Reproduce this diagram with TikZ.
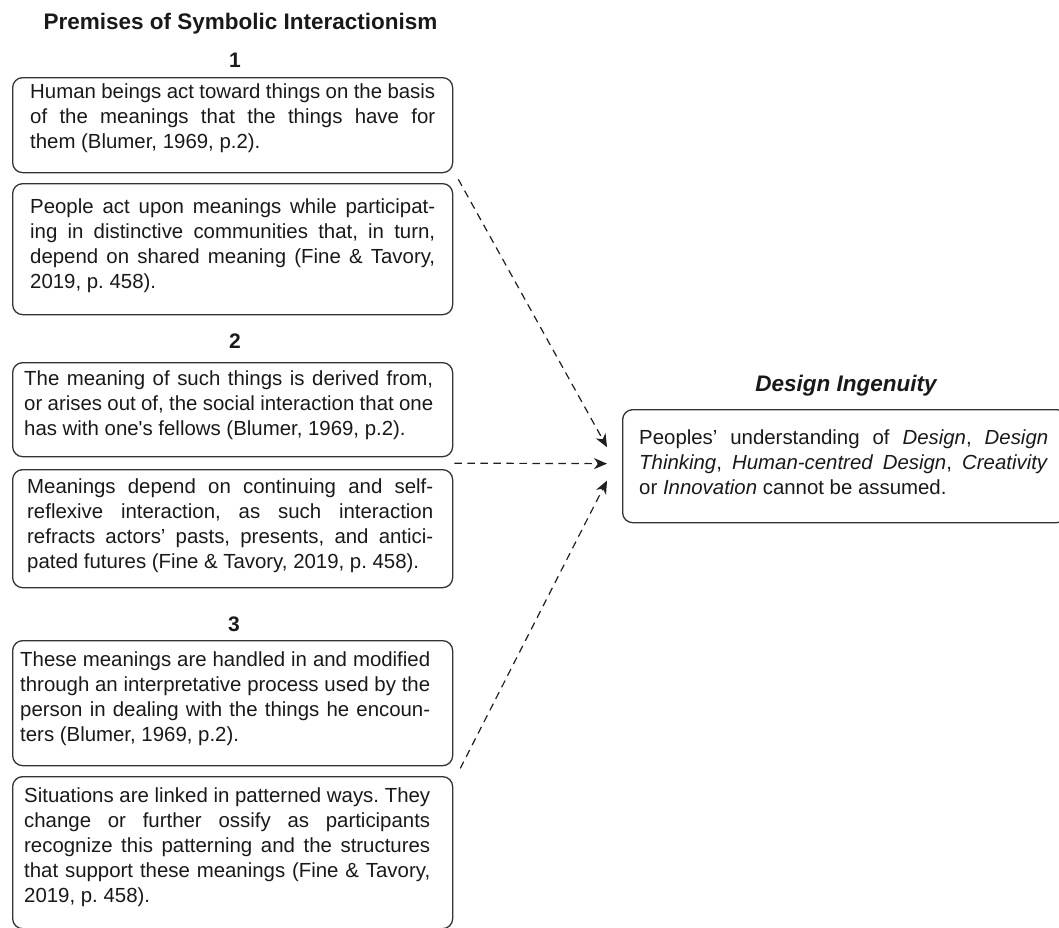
\documentclass[tikz,border=0pt]{standalone}
\usepackage{fontspec}
\setmainfont{Liberation Sans}
\usetikzlibrary{arrows.meta,calc}
\frenchspacing
\begin{document}
\begin{tikzpicture}[x=1pt,y=-1pt,
  ink/.style={black!90},
  premise/.style={draw=black!80, line width=1.3pt, rounded corners=10pt,
    anchor=north west, minimum width=440pt, inner sep=0pt},
  body/.style={ink, anchor=base west, inner sep=0pt, align=justify,
    font=\fontsize{20.4}{25}\selectfont},
  heading/.style={ink, anchor=base, inner sep=0pt,
    font=\fontsize{22.5}{27}\selectfont\bfseries},
  numlabel/.style={ink, anchor=base, inner sep=0pt,
    font=\fontsize{21}{25}\selectfont\bfseries},
  link/.style={black!88, line width=1.2pt, dash pattern=on 7.5pt off 5.5pt,
    -{Stealth[length=13pt,width=11pt,inset=4pt]}}]
\useasboundingbox (0,0) rectangle (1059,927);
\clip (0,0) rectangle (1059,927);

% headings
\node[heading] (title) at (240.5,29) {Premises of Symbolic Interactionism};
\node[numlabel] (n1) at (235,67) {1};
\node[numlabel] (n2) at (235,348) {2};
\node[numlabel] (n3) at (234,631) {3};
\node[heading, font=\fontsize{22.5}{27}\selectfont\bfseries\itshape] (dtitle) at (846,391) {Design Ingenuity};

% premise boxes
\node[premise, minimum height=95pt]  (b1a) at (12,77)  {};
\node[premise, minimum height=131pt] (b1b) at (12,183) {};
\node[premise, minimum height=94pt]  (b2a) at (12,362) {};
\node[premise, minimum height=118pt] (b2b) at (12,469) {};
\node[premise, minimum height=125pt] (b3a) at (12,640) {};
\node[premise, minimum height=152pt] (b3b) at (12,776) {};
\node[premise, minimum width=444pt, minimum height=113pt] (rb) at (622,409) {};

% premise texts
\node[body, text width=405pt] (t1a) at (30,98)
  {Human beings act toward things on the basis\linebreak
   of the meanings that the things have for\linebreak
   them (Blumer, 1969, p.2).};
\node[body, text width=405pt] (t1b) at (30,213)
  {People act upon meanings while participat-\linebreak
   ing in distinctive communities that, in turn,\linebreak
   depend on shared meaning (Fine \& Tavory,\linebreak
   2019, p.~458).};
\node[body, text width=409pt] (t2a) at (24,385)
  {The meaning of such things is derived from,\linebreak
   or arises out of, the social interaction that one\linebreak
   has with one\textquotesingle s fellows (Blumer, 1969, p.2).};
\node[body, text width=406pt] (t2b) at (27,493)
  {Meanings depend on continuing and self-\linebreak
   reflexive interaction, as such interaction\linebreak
   refracts actors’ pasts, presents, and antici-\linebreak
   pated futures (Fine \& Tavory, 2019, p.~458).};
\node[body, text width=410pt] (t3a) at (20,666)
  {These meanings are handled in and modified\linebreak
   through an interpretative process used by the\linebreak
   person in dealing with the things he encoun-\linebreak
   ters (Blumer, 1969, p.2).};
\node[body, text width=406pt] (t3b) at (24,802)
  {Situations are linked in patterned ways. They\linebreak
   change or further ossify as participants\linebreak
   recognize this patterning and the structures\linebreak
   that support these meanings (Fine \& Tavory,\linebreak
   2019, p.~458).};
\node[body, text width=409pt] (trb) at (639,444)
  {Peoples’ understanding of \emph{Design}, \emph{Design}\linebreak
   \emph{Thinking}, \emph{Human-centred Design}, \emph{Creativity}\linebreak
   or \emph{Innovation} cannot be assumed.};

% dashed links into the Design Ingenuity box
\coordinate (s1) at ($(b1a.south east)+(5,6)$);
\coordinate (s2) at ($(b2a.south east)!0.5!(b2b.north east)+(1,0)$);
\coordinate (s3) at ($(b3a.south east)+(7,2)$);
\coordinate (e1) at ($(rb.west)+(-15,-19)$);
\coordinate (e2) at ($(rb.west)+(-15,-2.5)$);
\coordinate (e3) at ($(rb.west)+(-15,14.5)$);
\draw[link] (s1) -- (e1);
\draw[link] (s2) -- (e2);
\draw[link] (s3) -- (e3);
\end{tikzpicture}
\end{document}
